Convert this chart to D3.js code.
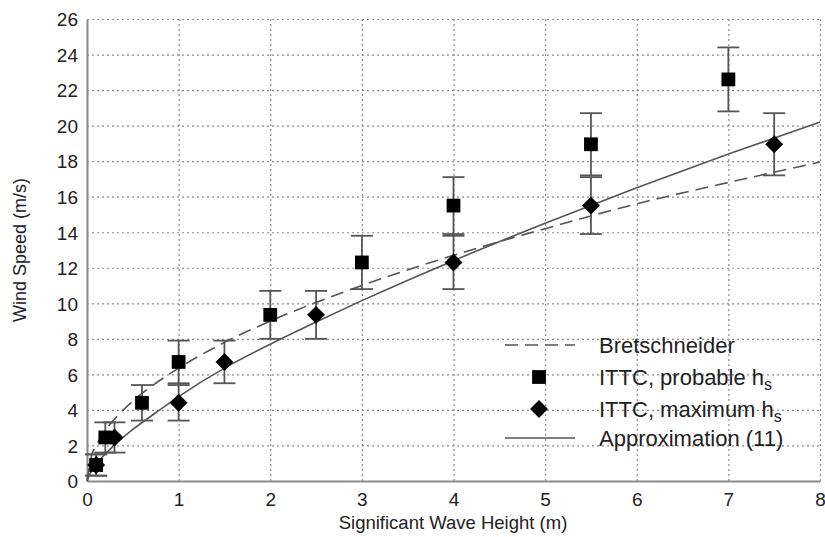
<!DOCTYPE html>
<html>
<head>
<meta charset="utf-8">
<script src="https://cdn.jsdelivr.net/npm/d3@7"></script>
<style>
  body { margin: 0; background: #fff; }
  text { font-family: "Liberation Sans", Arial, sans-serif; fill: #222; }
</style>
</head>
<body>
<div id="chart"></div>
<script>
/******* Data ******/
// Beaufort-type bands: mean wind speed and its range (m/s)
const windMean = [0.9, 2.45, 4.4, 6.7, 9.35, 12.3, 15.5, 18.95, 22.6];
const windLow  = [0.3, 1.6, 3.4, 5.5, 8.0, 10.8, 13.9, 17.2, 20.8];
const windHigh = [1.5, 3.3, 5.4, 7.9, 10.7, 13.8, 17.1, 20.7, 24.4];
// wave heights (m)
const probableH = [0.1, 0.2, 0.6, 1, 2, 3, 4, 5.5, 7];
const maximumH  = [0.1, 0.3, 1, 1.5, 2.5, 4, 5.5, 7.5];

// curves sampled from the figure
const curveH        = [0, 0.05, 0.1, 0.2, 0.3, 0.5, 0.75, 1, 1.5, 2, 2.5, 3, 4, 5, 6, 7, 8];
const bretschneider = [0, 1.42, 2.0, 2.85, 3.48, 4.5, 5.5, 6.35, 7.8, 9.0, 10.05, 11.0, 12.7, 14.2, 15.6, 16.8, 17.95];
const approx11      = [0, 0.58, 0.94, 1.52, 2.03, 2.9, 3.84, 4.75, 6.35, 7.7, 8.95, 10.15, 12.4, 14.5, 16.5, 18.4, 20.2];

const xTicks = [0, 1, 2, 3, 4, 5, 6, 7, 8];
const yTicks = [0, 2, 4, 6, 8, 10, 12, 14, 16, 18, 20, 22, 24, 26];

/******* Layout ******/
const svgW = 825;
const svgH = 537;
const margin = { top: 19, right: 5, bottom: 56, left: 87 };
const width = svgW - margin.left - margin.right;
const height = svgH - margin.top - margin.bottom;

const svg = d3.select("#chart").append("svg")
  .attr("width", svgW)
  .attr("height", svgH);

const g = svg.append("g")
  .attr("transform", `translate(${margin.left}, ${margin.top})`);

const x = d3.scaleLinear().domain([0, 8]).range([0, width]);
const y = d3.scaleLinear().domain([0, 26]).range([height, 0]);

// Grid (dotted) via axes
const xGrid = g.append("g")
  .attr("transform", `translate(0, ${height})`)
  .call(d3.axisBottom(x).tickValues(xTicks).tickSize(-height).tickFormat(""));
const yGrid = g.append("g")
  .call(d3.axisLeft(y).tickValues(yTicks).tickSize(-width).tickFormat(""));
[xGrid, yGrid].forEach(a => {
  a.select(".domain").remove();
  a.selectAll("line")
    .attr("stroke", "#8a8a8a")
    .attr("stroke-width", 1.2)
    .attr("stroke-dasharray", "2,3");
});

// Solid left and bottom axes with labels
const xAxis = g.append("g")
  .attr("transform", `translate(0, ${height})`)
  .call(d3.axisBottom(x).tickValues(xTicks).tickSize(0).tickPadding(12).tickFormat(d3.format("d")));
const yAxis = g.append("g")
  .call(d3.axisLeft(y).tickValues(yTicks).tickSize(0).tickPadding(9).tickFormat(d3.format("d")));
[xAxis, yAxis].forEach(a => {
  a.select(".domain").attr("stroke", "#8a8a8a").attr("stroke-width", 2);
  a.selectAll("text")
    .style("font-size", "19px")
    .style("font-family", "'Liberation Sans', Arial, sans-serif")
    .attr("fill", "#222");
});
xAxis.selectAll("text").attr("dy", "0.71em");
yAxis.selectAll("text").attr("dy", "0.36em");

// Axis titles
svg.append("text")
  .attr("x", 453)
  .attr("y", 529)
  .attr("text-anchor", "middle")
  .style("font-size", "18.5px")
  .text("Significant Wave Height (m)");

svg.append("text")
  .attr("transform", `translate(26, ${margin.top + height / 2}) rotate(-90)`)
  .attr("text-anchor", "middle")
  .style("font-size", "18px")
  .text("Wind Speed (m/s)");

// Curves
const line = d3.line()
  .x((d, i) => x(curveH[i]))
  .y(d => y(d))
  .curve(d3.curveMonotoneX);

g.append("path")
  .datum(bretschneider)
  .attr("d", line)
  .attr("fill", "none")
  .attr("stroke", "#555")
  .attr("stroke-width", 1.6)
  .attr("stroke-dasharray", "13,7");

g.append("path")
  .datum(approx11)
  .attr("d", line)
  .attr("fill", "none")
  .attr("stroke", "#555")
  .attr("stroke-width", 1.6);

// Error bars
function errorBars(hs) {
  const grp = g.append("g")
    .attr("stroke", "#555")
    .attr("stroke-width", 1.8);
  hs.forEach((h, i) => {
    const cx = x(h);
    grp.append("line")
      .attr("x1", cx).attr("x2", cx)
      .attr("y1", y(windLow[i])).attr("y2", y(windHigh[i]));
    [windLow[i], windHigh[i]].forEach(v => {
      grp.append("line")
        .attr("x1", cx - 11).attr("x2", cx + 11)
        .attr("y1", y(v)).attr("y2", y(v));
    });
  });
}
errorBars(probableH);
errorBars(maximumH);

// Markers
const square = d3.symbol().type(d3.symbolSquare).size(190);
const diamond = d3.symbol().type(d3.symbolSquare).size(160);

g.append("g").selectAll("path")
  .data(probableH)
  .enter()
  .append("path")
  .attr("d", square)
  .attr("transform", (d, i) => `translate(${x(d)}, ${y(windMean[i])})`)
  .attr("fill", "#000");

g.append("g").selectAll("path")
  .data(maximumH)
  .enter()
  .append("path")
  .attr("d", diamond)
  .attr("transform", (d, i) => `translate(${x(d)}, ${y(windMean[i])}) rotate(45)`)
  .attr("fill", "#000");

// Legend
const legend = svg.append("g").attr("transform", "translate(505, 0)");
const rows = [
  { y: 345, label: "Bretschneider", kind: "dash" },
  { y: 377, label: "ITTC, probable h", sub: "s", kind: "square" },
  { y: 409, label: "ITTC, maximum h", sub: "s", kind: "diamond" },
  { y: 438, label: "Approximation (11)", kind: "line" }
];
rows.forEach(r => {
  if (r.kind === "dash" || r.kind === "line") {
    legend.append("line")
      .attr("x1", 0).attr("x2", 70)
      .attr("y1", r.y).attr("y2", r.y)
      .attr("stroke", "#555")
      .attr("stroke-width", 1.6)
      .attr("stroke-dasharray", r.kind === "dash" ? "13,7" : null);
  } else {
    legend.append("path")
      .attr("d", r.kind === "square" ? square : diamond)
      .attr("transform", `translate(34, ${r.y})` + (r.kind === "diamond" ? " rotate(45)" : ""))
      .attr("fill", "#000");
  }
  const t = legend.append("text")
    .attr("x", 94)
    .attr("y", r.y + 8)
    .style("font-size", "22px")
    .text(r.label);
  if (r.sub) {
    t.append("tspan")
      .attr("dy", 5)
      .style("font-size", "16px")
      .text(r.sub);
  }
});
</script>
</body>
</html>
